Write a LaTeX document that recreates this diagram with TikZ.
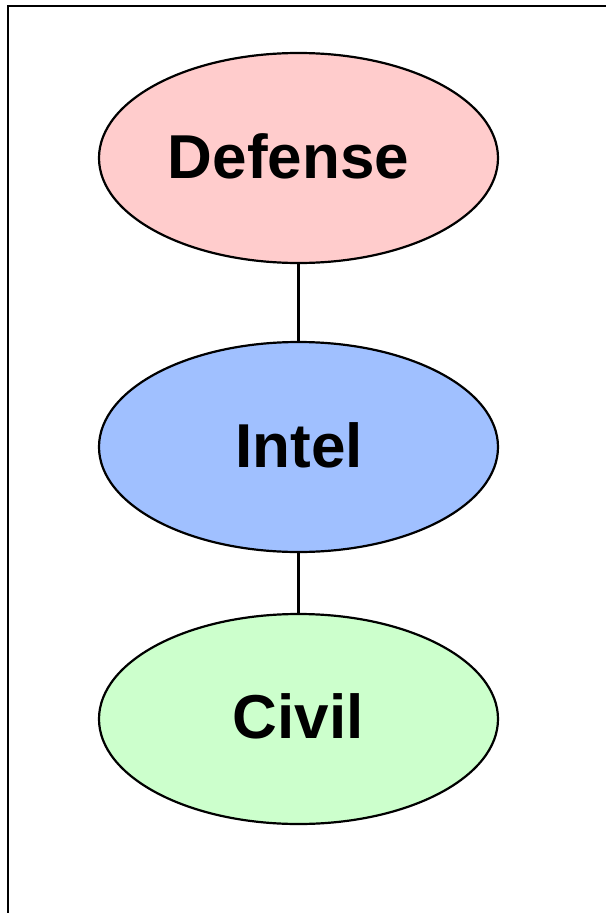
\documentclass[tikz,border=0pt]{standalone}
\usepackage{fontspec}
\setmainfont{Liberation Sans}
\usetikzlibrary{shapes.geometric}
\definecolor{pinkfill}{RGB}{255,204,204}
\definecolor{bluefill}{RGB}{160,192,255}
\definecolor{greenfill}{RGB}{204,255,204}
\begin{document}
\begin{tikzpicture}[x=1pt,y=-1pt,
  oval/.style={ellipse, draw=black, line width=2.2pt, minimum width=399pt, minimum height=210pt, inner sep=0pt},
  lbl/.style={font=\fontsize{62}{62}\selectfont\bfseries, anchor=base},
  link/.style={draw=black, line width=2.2pt}]
\useasboundingbox (0,0) rectangle (606,913);
\fill[white] (0,0) rectangle (606,913);
\draw[line width=2.8pt] (8,913) -- (8,6) -- (606,6);
\node[oval, fill=pinkfill] (def) at (298.5,158) {};
\node[oval, fill=bluefill] (int) at (298.5,447) {};
\node[oval, fill=greenfill] (civ) at (298.5,719) {};
\node[lbl] (tdef) at (288.5,178) {Defense};
\node[lbl] (tint) at (299,467) {Intel};
\node[lbl] (tciv) at (298,738) {Civil};
\draw[link] (def) -- (int);
\draw[link] (int) -- (civ);
\end{tikzpicture}
\end{document}
